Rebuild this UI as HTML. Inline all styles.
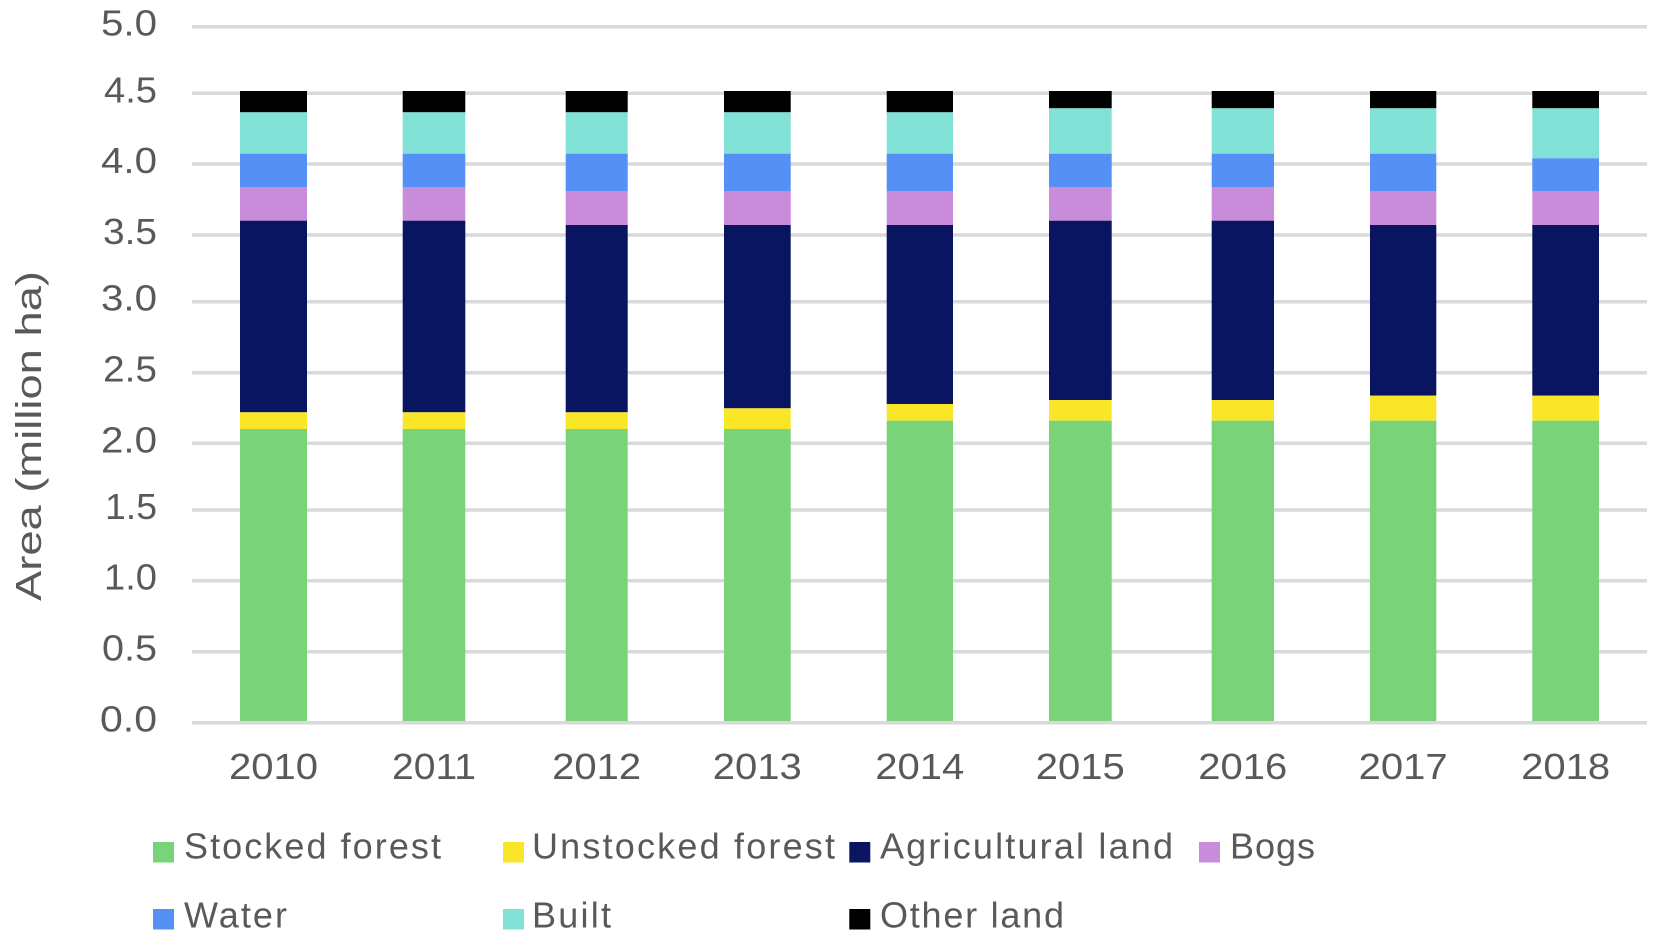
<!DOCTYPE html>
<html>
<head>
<meta charset="utf-8">
<style>
  html,body{margin:0;padding:0;background:#fff;}
  svg{display:block;}
  text{font-family:"Liberation Sans", "DejaVu Sans", sans-serif; fill:#595959;}
</style>
</head>
<body>
<svg width="1675" height="952" viewBox="0 0 1675 952" xmlns="http://www.w3.org/2000/svg">
  <rect x="0" y="0" width="1675" height="952" fill="#ffffff"/>
  <!-- gridlines -->
  <g stroke="#d9d9d9" stroke-width="3.5">
    <line x1="192" x2="1647" y1="26.7" y2="26.7"/>
    <line x1="192" x2="1647" y1="93.3" y2="93.3"/>
    <line x1="192" x2="1647" y1="164" y2="164"/>
    <line x1="192" x2="1647" y1="235" y2="235"/>
    <line x1="192" x2="1647" y1="301.7" y2="301.7"/>
    <line x1="192" x2="1647" y1="372.7" y2="372.7"/>
    <line x1="192" x2="1647" y1="443.3" y2="443.3"/>
    <line x1="192" x2="1647" y1="510" y2="510"/>
    <line x1="192" x2="1647" y1="580.7" y2="580.7"/>
    <line x1="192" x2="1647" y1="651.7" y2="651.7"/>
  </g>

  <!-- bars -->
  <g id="bars">
    <!-- 2010 -->
    <rect x="240" width="67" y="91" height="21.3" fill="#000000"/>
    <rect x="240" width="67" y="112.3" height="41.4" fill="#82e1d7"/>
    <rect x="240" width="67" y="153.7" height="33.3" fill="#5591f4"/>
    <rect x="240" width="67" y="187" height="33.7" fill="#c88cdb"/>
    <rect x="240" width="67" y="220.7" height="191.6" fill="#0a1562"/>
    <rect x="240" width="67" y="412.3" height="16.7" fill="#fae628"/>
    <rect x="240" width="67" y="429" height="293" fill="#79d379"/>
    <!-- 2011 -->
    <rect x="402.7" width="62.6" y="91" height="21.3" fill="#000000"/>
    <rect x="402.7" width="62.6" y="112.3" height="41.4" fill="#82e1d7"/>
    <rect x="402.7" width="62.6" y="153.7" height="33.3" fill="#5591f4"/>
    <rect x="402.7" width="62.6" y="187" height="33.7" fill="#c88cdb"/>
    <rect x="402.7" width="62.6" y="220.7" height="191.6" fill="#0a1562"/>
    <rect x="402.7" width="62.6" y="412.3" height="16.7" fill="#fae628"/>
    <rect x="402.7" width="62.6" y="429" height="293" fill="#79d379"/>
    <!-- 2012 -->
    <rect x="565.7" width="62" y="91" height="21.3" fill="#000000"/>
    <rect x="565.7" width="62" y="112.3" height="41.4" fill="#82e1d7"/>
    <rect x="565.7" width="62" y="153.7" height="37.3" fill="#5591f4"/>
    <rect x="565.7" width="62" y="191" height="34" fill="#c88cdb"/>
    <rect x="565.7" width="62" y="225" height="187.3" fill="#0a1562"/>
    <rect x="565.7" width="62" y="412.3" height="16.7" fill="#fae628"/>
    <rect x="565.7" width="62" y="429" height="293" fill="#79d379"/>
    <!-- 2013 -->
    <rect x="724" width="66.7" y="91" height="21.3" fill="#000000"/>
    <rect x="724" width="66.7" y="112.3" height="41.4" fill="#82e1d7"/>
    <rect x="724" width="66.7" y="153.7" height="37.3" fill="#5591f4"/>
    <rect x="724" width="66.7" y="191" height="34" fill="#c88cdb"/>
    <rect x="724" width="66.7" y="225" height="183.3" fill="#0a1562"/>
    <rect x="724" width="66.7" y="408.3" height="20.7" fill="#fae628"/>
    <rect x="724" width="66.7" y="429" height="293" fill="#79d379"/>
    <!-- 2014 -->
    <rect x="886.7" width="66.3" y="91" height="21.3" fill="#000000"/>
    <rect x="886.7" width="66.3" y="112.3" height="41.4" fill="#82e1d7"/>
    <rect x="886.7" width="66.3" y="153.7" height="37.3" fill="#5591f4"/>
    <rect x="886.7" width="66.3" y="191" height="34" fill="#c88cdb"/>
    <rect x="886.7" width="66.3" y="225" height="179" fill="#0a1562"/>
    <rect x="886.7" width="66.3" y="404" height="16.7" fill="#fae628"/>
    <rect x="886.7" width="66.3" y="420.7" height="301.3" fill="#79d379"/>
    <!-- 2015 -->
    <rect x="1049" width="62.7" y="91" height="17.3" fill="#000000"/>
    <rect x="1049" width="62.7" y="108.3" height="45.4" fill="#82e1d7"/>
    <rect x="1049" width="62.7" y="153.7" height="33.3" fill="#5591f4"/>
    <rect x="1049" width="62.7" y="187" height="33.7" fill="#c88cdb"/>
    <rect x="1049" width="62.7" y="220.7" height="179.3" fill="#0a1562"/>
    <rect x="1049" width="62.7" y="400" height="20.7" fill="#fae628"/>
    <rect x="1049" width="62.7" y="420.7" height="301.3" fill="#79d379"/>
    <!-- 2016 -->
    <rect x="1211.7" width="62.3" y="91" height="17.3" fill="#000000"/>
    <rect x="1211.7" width="62.3" y="108.3" height="45.4" fill="#82e1d7"/>
    <rect x="1211.7" width="62.3" y="153.7" height="33.3" fill="#5591f4"/>
    <rect x="1211.7" width="62.3" y="187" height="33.7" fill="#c88cdb"/>
    <rect x="1211.7" width="62.3" y="220.7" height="179.3" fill="#0a1562"/>
    <rect x="1211.7" width="62.3" y="400" height="20.7" fill="#fae628"/>
    <rect x="1211.7" width="62.3" y="420.7" height="301.3" fill="#79d379"/>
    <!-- 2017 -->
    <rect x="1370" width="66.3" y="91" height="17.3" fill="#000000"/>
    <rect x="1370" width="66.3" y="108.3" height="45.4" fill="#82e1d7"/>
    <rect x="1370" width="66.3" y="153.7" height="37.3" fill="#5591f4"/>
    <rect x="1370" width="66.3" y="191" height="34" fill="#c88cdb"/>
    <rect x="1370" width="66.3" y="225" height="170.7" fill="#0a1562"/>
    <rect x="1370" width="66.3" y="395.7" height="25" fill="#fae628"/>
    <rect x="1370" width="66.3" y="420.7" height="301.3" fill="#79d379"/>
    <!-- 2018 -->
    <rect x="1532.3" width="66.7" y="91" height="17.3" fill="#000000"/>
    <rect x="1532.3" width="66.7" y="108.3" height="50" fill="#82e1d7"/>
    <rect x="1532.3" width="66.7" y="158.3" height="32.7" fill="#5591f4"/>
    <rect x="1532.3" width="66.7" y="191" height="34" fill="#c88cdb"/>
    <rect x="1532.3" width="66.7" y="225" height="170.7" fill="#0a1562"/>
    <rect x="1532.3" width="66.7" y="395.7" height="25" fill="#fae628"/>
    <rect x="1532.3" width="66.7" y="420.7" height="301.3" fill="#79d379"/>
  </g>

  <!-- zero axis line -->
  <line x1="192" x2="1647" y1="722.7" y2="722.7" stroke="#d9d9d9" stroke-width="3.5"/>

  <!-- y axis labels -->
  <g font-size="36" text-anchor="end">
    <text x="157" y="35.7" textLength="56" lengthAdjust="spacingAndGlyphs">5.0</text>
    <text x="157" y="102.3" textLength="53" lengthAdjust="spacingAndGlyphs">4.5</text>
    <text x="157" y="173" textLength="56" lengthAdjust="spacingAndGlyphs">4.0</text>
    <text x="157" y="244" textLength="54" lengthAdjust="spacingAndGlyphs">3.5</text>
    <text x="157" y="310.7" textLength="56" lengthAdjust="spacingAndGlyphs">3.0</text>
    <text x="157" y="381.7" textLength="54" lengthAdjust="spacingAndGlyphs">2.5</text>
    <text x="157" y="452.3" textLength="56" lengthAdjust="spacingAndGlyphs">2.0</text>
    <text x="157" y="519" textLength="52" lengthAdjust="spacingAndGlyphs">1.5</text>
    <text x="157" y="589.7" textLength="53" lengthAdjust="spacingAndGlyphs">1.0</text>
    <text x="157" y="660.7" textLength="55" lengthAdjust="spacingAndGlyphs">0.5</text>
    <text x="157" y="731.7" textLength="57" lengthAdjust="spacingAndGlyphs">0.0</text>
  </g>

  <!-- axis title -->
  <text x="0" y="0" font-size="36" text-anchor="middle" transform="translate(41,436) rotate(-90)" textLength="330" lengthAdjust="spacingAndGlyphs">Area (million ha)</text>

  <!-- x labels -->
  <g font-size="36" text-anchor="middle">
    <text x="273.5" y="779" textLength="89" lengthAdjust="spacingAndGlyphs">2010</text>
    <text x="434" y="779" textLength="84" lengthAdjust="spacingAndGlyphs">2011</text>
    <text x="596.7" y="779" textLength="89" lengthAdjust="spacingAndGlyphs">2012</text>
    <text x="757.3" y="779" textLength="89" lengthAdjust="spacingAndGlyphs">2013</text>
    <text x="919.8" y="779" textLength="89" lengthAdjust="spacingAndGlyphs">2014</text>
    <text x="1080.3" y="779" textLength="89" lengthAdjust="spacingAndGlyphs">2015</text>
    <text x="1242.8" y="779" textLength="89" lengthAdjust="spacingAndGlyphs">2016</text>
    <text x="1403.2" y="779" textLength="89" lengthAdjust="spacingAndGlyphs">2017</text>
    <text x="1565.6" y="779" textLength="89" lengthAdjust="spacingAndGlyphs">2018</text>
  </g>

  <!-- legend -->
  <g font-size="36">
    <rect x="153" y="842" width="21" height="20.5" fill="#79d379"/>
    <text x="184" y="858.5" textLength="257" lengthAdjust="spacing">Stocked forest</text>
    <rect x="503" y="842" width="21" height="20.5" fill="#fae628"/>
    <text x="532" y="858.5" textLength="303" lengthAdjust="spacing">Unstocked forest</text>
    <rect x="849.3" y="842" width="21" height="20.5" fill="#0a1562"/>
    <text x="880" y="858.5" textLength="293" lengthAdjust="spacing">Agricultural land</text>
    <rect x="1199" y="842" width="21" height="20.5" fill="#c88cdb"/>
    <text x="1230" y="858.5" textLength="85" lengthAdjust="spacing">Bogs</text>

    <rect x="153" y="909" width="21" height="20.5" fill="#5591f4"/>
    <text x="184" y="927.5" textLength="103" lengthAdjust="spacing">Water</text>
    <rect x="503" y="909" width="21" height="20.5" fill="#82e1d7"/>
    <text x="532" y="927.5" textLength="79" lengthAdjust="spacing">Built</text>
    <rect x="849.3" y="909" width="21" height="20.5" fill="#000000"/>
    <text x="880" y="927.5" textLength="184" lengthAdjust="spacing">Other land</text>
  </g>
</svg>
</body>
</html>
